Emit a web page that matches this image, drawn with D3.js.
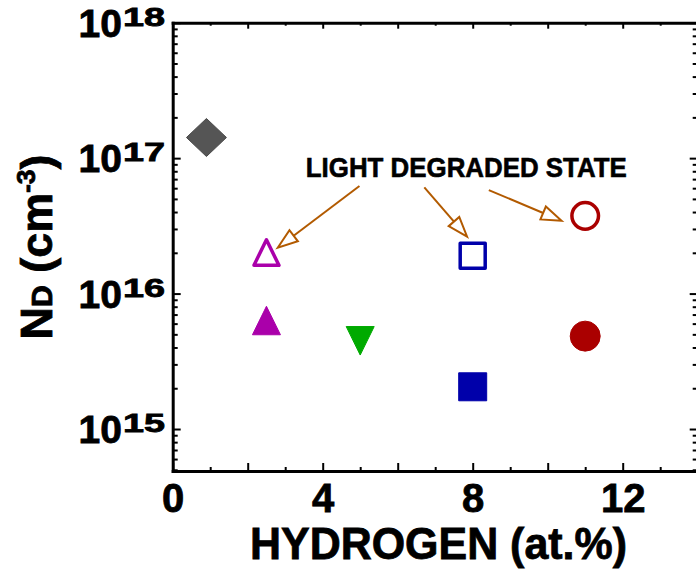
<!DOCTYPE html>
<html>
<head>
<meta charset="utf-8">
<script src="https://cdn.jsdelivr.net/npm/d3@7"></script>
<style>
  body { margin: 0; background: #fff; }
  text { font-family: "Liberation Sans", Arial, Helvetica, sans-serif; font-weight: bold; }
</style>
</head>
<body>
<script>
// chart data
var hydrogen = [0.9, 2.5, 2.5, 5, 8, 8, 11, 11];             // at.%
var density  = [1.42e17, 2.0e16, 6.3e15, 4.5e15, 1.9e16, 2.05e15, 3.75e16, 4.85e15]; // cm-3
var pointState = ["initial", "degraded", "initial", "initial", "degraded", "initial", "degraded", "initial"];

var xTicks = [0, 4, 8, 12];
var yDecades = [15, 16, 17, 18];

var noteText = "LIGHT DEGRADED STATE";
var noteAt = [3.55, 7.29e16];
var arrowFrom = [[4.98, 6.22e16], [6.71, 6.08e16], [8.43, 5.81e16]];
var arrowTo   = [[2.80, 2.18e16], [7.85, 2.63e16], [10.37, 3.45e16]];

// marker look for each point
var markerShape = ["diamond", "triangle", "triangle", "triangleDown", "square", "square", "circle", "circle"];
var markerColor = ["#555555", "#aa00aa", "#aa00aa", "#00aa00", "#0000aa", "#0000aa", "#aa0000", "#aa0000"];

window.onload = function(){

    var w = 696, h = 569;
    var left = 172.7, right = 697.7, top = 22.7, bottom = 471;

    var svg = d3.select("body").append("svg")
        .attr("width", w)
        .attr("height", h);

    var x = d3.scaleLinear().domain([0, 14]).range([left, right]);
    var y = d3.scaleLog().domain([Math.pow(10, 14.69), 1e18]).range([bottom, top]);

    // minor + major ticks of the log axis
    var yTickVals = [];
    [14, 15, 16, 17].forEach(function(d){
        for (var k = 1; k <= 9; k++) {
            var v = k * Math.pow(10, d);
            if (v >= y.domain()[0] && v <= 1e18) yTickVals.push(v);
        }
    });
    yTickVals.push(1e18);
    var isMajor = function(v){ return Math.abs(Math.log10(v) - Math.round(Math.log10(v))) < 1e-9; };

    var allX = d3.range(0, 15);

    function styleAxis(g){
        g.select(".domain").attr("stroke", "#000").attr("stroke-width", 3).attr("stroke-linecap", "square");
        g.selectAll(".tick line").attr("stroke", "#000").attr("stroke-width", 2);
    }

    // bottom axis
    var gx = svg.append("g").attr("transform", "translate(0," + bottom + ")")
        .call(d3.axisBottom(x).tickValues(allX).tickSizeOuter(0)
            .tickFormat(function(d){ return xTicks.indexOf(d) >= 0 ? d : ""; }));
    gx.selectAll(".tick line").attr("y2", function(d){ return d % 2 === 0 ? -8 : -4; });
    gx.selectAll(".tick text")
        .attr("y", 41).attr("dy", 0)
        .attr("font-size", 40)
        .attr("fill", "#000").attr("stroke", "#000").attr("stroke-width", 0.8);
    styleAxis(gx);

    // top axis
    var gt = svg.append("g").attr("transform", "translate(0," + top + ")")
        .call(d3.axisTop(x).tickValues(allX).tickSizeOuter(0).tickFormat(""));
    gt.selectAll(".tick line").attr("y2", function(d){ return d % 2 === 0 ? 6 : 3; });
    styleAxis(gt);

    // left axis
    var gy = svg.append("g").attr("transform", "translate(" + left + ",0)")
        .call(d3.axisLeft(y).tickValues(yTickVals).tickSizeOuter(0).tickFormat(""));
    gy.selectAll(".tick line").attr("x2", function(d){ return isMajor(d) ? 8 : 5; });
    styleAxis(gy);

    // right axis
    var gr = svg.append("g").attr("transform", "translate(" + right + ",0)")
        .call(d3.axisRight(y).tickValues(yTickVals).tickSizeOuter(0).tickFormat(""));
    gr.selectAll(".tick line").attr("x2", function(d){ return isMajor(d) ? -8 : -5; });
    styleAxis(gr);

    // y tick labels 10^n
    var yl = svg.append("g").selectAll("g").data(yDecades).enter().append("g");
    yl.append("text")
        .attr("x", 122).attr("y", function(d){ return y(Math.pow(10, d)) + 14; })
        .attr("text-anchor", "end")
        .attr("font-size", 39)
        .attr("stroke", "#000").attr("stroke-width", 0.8)
        .text("10");
    yl.append("text")
        .attr("x", 123).attr("y", function(d){ return y(Math.pow(10, d)) + 3; })
        .attr("font-size", 26)
        .attr("textLength", 42).attr("lengthAdjust", "spacingAndGlyphs")
        .attr("stroke", "#000").attr("stroke-width", 0.8)
        .text(function(d){ return d; });

    // axis titles
    svg.append("text")
        .attr("x", 250).attr("y", 559)
        .attr("font-size", 45)
        .attr("textLength", 377).attr("lengthAdjust", "spacingAndGlyphs")
        .attr("stroke", "#000").attr("stroke-width", 0.8)
        .text("HYDROGEN (at.%)");

    var yt = svg.append("text")
        .attr("transform", "translate(52,247) rotate(-90)")
        .attr("text-anchor", "middle")
        .attr("font-size", 44)
        .attr("textLength", 185).attr("lengthAdjust", "spacingAndGlyphs")
        .attr("stroke", "#000").attr("stroke-width", 0.8);
    yt.append("tspan").text("N");
    yt.append("tspan").attr("font-size", 30).text("D");
    yt.append("tspan").text(" (cm");
    yt.append("tspan").attr("font-size", 26).attr("dy", -17).text("-3");
    yt.append("tspan").attr("dy", 17).text(")");

    // annotation
    svg.append("text")
        .attr("x", x(noteAt[0])).attr("y", y(noteAt[1]))
        .attr("font-size", 27)
        .attr("textLength", 321).attr("lengthAdjust", "spacingAndGlyphs")
        .attr("stroke", "#000").attr("stroke-width", 0.6)
        .text(noteText);

    var arrowColor = "#b25a00";
    arrowFrom.forEach(function(f, i){
        var x1 = x(f[0]), y1 = y(f[1]), x2 = x(arrowTo[i][0]), y2 = y(arrowTo[i][1]);
        var dx = x2 - x1, dy = y2 - y1, len = Math.sqrt(dx*dx + dy*dy);
        var ux = dx / len, uy = dy / len;
        var hl = 20, hw = 7;
        var bx = x2 - ux*hl, by = y2 - uy*hl;
        svg.append("line")
            .attr("x1", x1).attr("y1", y1).attr("x2", bx).attr("y2", by)
            .attr("stroke", arrowColor).attr("stroke-width", 2);
        svg.append("path")
            .attr("d", "M" + x2 + "," + y2 +
                "L" + (bx - uy*hw) + "," + (by + ux*hw) +
                "L" + (bx + uy*hw) + "," + (by - ux*hw) + "Z")
            .attr("fill", "#fff").attr("stroke", arrowColor).attr("stroke-width", 2)
            .attr("stroke-linejoin", "miter");
    });

    // markers
    function markerPath(shape, open){
        var s = open ? 12.5 : 14;
        if (shape === "diamond") return "M0,-19L20,0L0,19L-20,0Z";
        if (shape === "triangle") return "M0," + (-s-0.5) + "L" + s + "," + s + "L" + (-s) + "," + s + "Z";
        if (shape === "triangleDown") return "M" + (-s) + "," + (-s) + "L" + s + "," + (-s) + "L0," + (s+0.5) + "Z";
        if (shape === "square") return "M" + (-s) + "," + (-s) + "H" + s + "V" + s + "H" + (-s) + "Z";
        return d3.symbol(d3.symbolCircle, Math.PI * (open ? 13.3 : 15) * (open ? 13.3 : 15))();
    }

    svg.append("g").selectAll("path").data(hydrogen).enter().append("path")
        .attr("transform", function(d, i){ return "translate(" + x(d) + "," + y(density[i]) + ")"; })
        .attr("d", function(d, i){ return markerPath(markerShape[i], pointState[i] === "degraded"); })
        .attr("fill", function(d, i){ return pointState[i] === "degraded" ? "#fff" : markerColor[i]; })
        .attr("stroke", function(d, i){ return i === 0 ? "#4a4a4a" : markerColor[i]; })
        .attr("stroke-width", function(d, i){ return pointState[i] === "degraded" ? 3.5 : 1; })
        .attr("stroke-linejoin", "round");
}
</script>
</body>
</html>
